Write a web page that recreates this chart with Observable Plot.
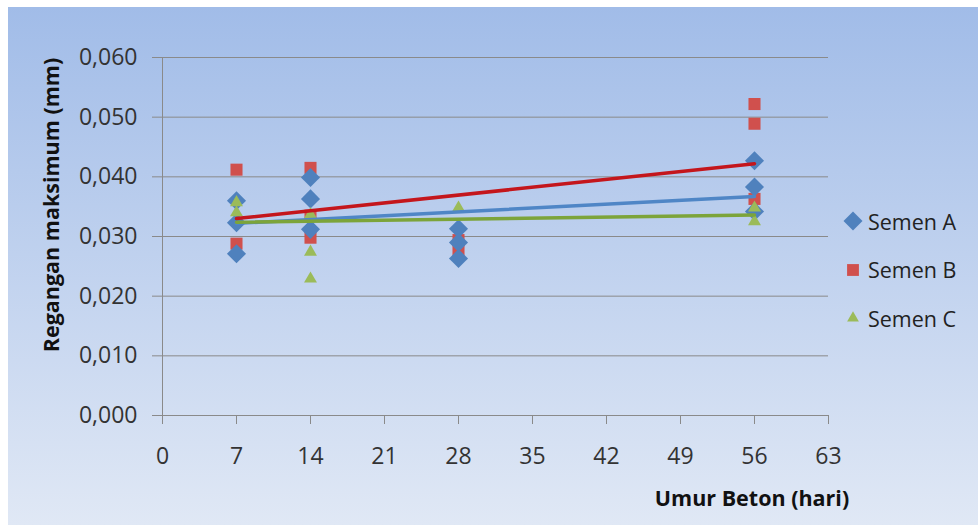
<!DOCTYPE html>
<html><head><meta charset="utf-8">
<script src="https://cdn.jsdelivr.net/npm/d3@7"></script>
<script src="https://cdn.jsdelivr.net/npm/@observablehq/plot@0.6"></script>
<style>
html,body{margin:0;padding:0;background:#fff;}
#wrap{position:relative;width:978px;height:525px;overflow:hidden;font-family:"Open Sans",sans-serif;}
#bg{position:absolute;left:8px;top:7px;right:0;bottom:0;background:linear-gradient(#a1bce8,#e0e8f5);}
#chart{position:absolute;left:0;top:0;}
.ttl{position:absolute;font-weight:bold;font-size:21.5px;color:#111;white-space:nowrap;}
#ytitle{left:50px;top:205px;transform:translate(-50%,-50%) rotate(-90deg);}
#xtitle{left:752px;top:497px;transform:translate(-50%,-50%);}
#legend{position:absolute;left:842px;top:197px;}
.li{display:flex;align-items:center;height:48.5px;font-size:21.5px;color:#222;}
.li svg{margin-right:4px;}
</style>
</head><body>
<div id="wrap"><div id="bg"></div><div id="chart"></div>
<div class="ttl" id="ytitle">Regangan maksimum (mm)</div>
<div class="ttl" id="xtitle">Umur Beton (hari)</div>
<div id="legend"></div>
</div>
<script>
// tick values
const xTicks = [0, 7, 14, 21, 28, 35, 42, 49, 56, 63];
const yTicks = [0, 0.01, 0.02, 0.03, 0.04, 0.05, 0.06];
const seriesNames = ["Semen A", "Semen B", "Semen C"];
const seriesColors = ["#4f81bd", "#d0504d", "#9bbb59"];
const trendColors = ["#4f86c6", "#c4161c", "#7ca43a"];

// [age (days), max strain (mm)]
const semenA = [[7,0.0360],[7,0.0323],[7,0.0271],[14,0.0399],[14,0.0363],[14,0.0312],[28,0.0313],[28,0.0290],[28,0.0263],[56,0.0427],[56,0.0383],[56,0.0342]];
const semenB = [[7,0.0412],[7,0.0288],[14,0.0415],[14,0.0335],[14,0.0298],[28,0.0294],[28,0.0276],[56,0.0522],[56,0.0489],[56,0.0363]];
const semenC = [[7,0.0357],[7,0.0340],[14,0.0337],[14,0.0274],[14,0.0229],[28,0.0348],[56,0.0348],[56,0.0325]];

// linear trend lines (start/end)
const trendA = [[7,0.0322],[56,0.0367]];
const trendB = [[7,0.0330],[56,0.0422]];
const trendC = [[7,0.0324],[56,0.0336]];

const fmt = d => d3.format(".3f")(d).replace(".", ",");
const X = d => d[0], Y = d => d[1];

const chart = Plot.plot({
  width: 978, height: 525,
  marginLeft: 162, marginRight: 150, marginTop: 57, marginBottom: 110,
  style: {background: "transparent", fontFamily: "Open Sans, sans-serif", fontSize: "23px", color: "#333"},
  x: {domain: [0, 63]},
  y: {domain: [0, 0.06]},
  marks: [
    Plot.gridY(yTicks, {stroke: "#8a8a8a", strokeOpacity: 1, strokeWidth: 1}),
    Plot.ruleX([0], {stroke: "#8a8a8a", strokeWidth: 1}),
    Plot.axisY(yTicks, {tickSize: 10, tickPadding: 15, tickFormat: fmt, label: null, stroke: "#8a8a8a", fill: "#333"}),
    Plot.axisX(xTicks, {tickSize: 9, tickPadding: 23, label: null, stroke: "#8a8a8a", fill: "#333"}),
    Plot.dot(semenB, {x: X, y: Y, symbol: d3.symbolSquare, r: 6.8, fill: seriesColors[1], stroke: "none"}),
    Plot.dot(semenA, {x: X, y: Y, symbol: d3.symbolDiamond2, r: 8.6, fill: seriesColors[0], stroke: "none"}),
    Plot.dot(semenC, {x: X, y: Y, symbol: d3.symbolTriangle, r: 4.8, fill: seriesColors[2], stroke: "none"}),
    Plot.line(trendA, {x: X, y: Y, stroke: trendColors[0], strokeWidth: 3.5}),
    Plot.line(trendC, {x: X, y: Y, stroke: trendColors[2], strokeWidth: 3.5}),
    Plot.line(trendB, {x: X, y: Y, stroke: trendColors[1], strokeWidth: 3.5})
  ]
});
document.getElementById("chart").appendChild(chart);

// legend
const symbols = [d3.symbolDiamond2, d3.symbolSquare, d3.symbolTriangle];
const sizes = [230, 140, 60];
const leg = document.getElementById("legend");
seriesNames.forEach((name, i) => {
  const row = document.createElement("div");
  row.className = "li";
  const path = d3.symbol(symbols[i], sizes[i])();
  row.innerHTML = `<svg width="22" height="22" viewBox="-11 -11 22 22"><path d="${path}" fill="${seriesColors[i]}"/></svg><span>${name}</span>`;
  leg.appendChild(row);
});
</script>
</body></html>
